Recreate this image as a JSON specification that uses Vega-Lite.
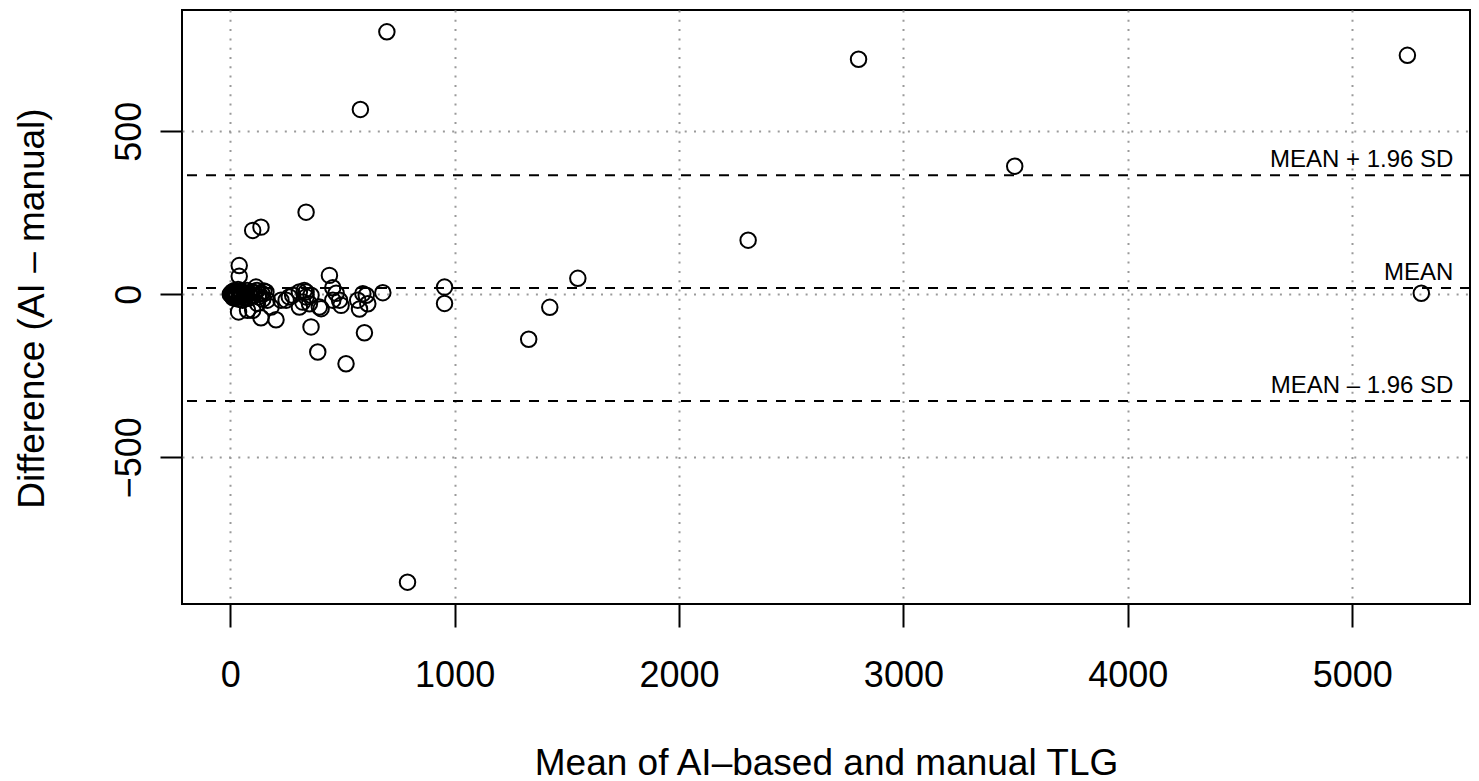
{
  "$schema": "https://vega.github.io/schema/vega-lite/v6.json",
  "width": 1288,
  "height": 594,
  "autosize": {"type": "none"},
  "padding": {"left": 182, "top": 10, "right": 9, "bottom": 177},
  "background": "white",
  "config": {
    "view": {"stroke": "black", "strokeWidth": 2},
    "axis": {
      "domain": false,
      "grid": true,
      "gridColor": "#9a9a9a",
      "gridDash": [2, 7.3],
      "gridWidth": 2,
      "ticks": true,
      "tickColor": "black",
      "tickWidth": 2,
      "labelFont": "Liberation Sans",
      "labelFontSize": 36,
      "labelColor": "black",
      "titleFont": "Liberation Sans",
      "titleFontSize": 37,
      "titleFontWeight": "normal",
      "titleColor": "black"
    }
  },
  "datasets": {
    "points": [
      {"mean": 698, "diff": 805}, {"mean": 580, "diff": 567}, {"mean": 2800, "diff": 721}, {"mean": 5246, "diff": 733},
      {"mean": 3496, "diff": 393}, {"mean": 2308, "diff": 166}, {"mean": 1549, "diff": 49}, {"mean": 1424, "diff": -40},
      {"mean": 1330, "diff": -138}, {"mean": 790, "diff": -883}, {"mean": 5308, "diff": 3}, {"mean": 955, "diff": 22},
      {"mean": 955, "diff": -28}, {"mean": 338, "diff": 252}, {"mean": 100, "diff": 196}, {"mean": 137, "diff": 206},
      {"mean": 40, "diff": 88}, {"mean": 40, "diff": 55},
      {"mean": 442, "diff": 58}, {"mean": 457, "diff": 20}, {"mean": 472, "diff": 3}, {"mean": 338, "diff": 7},
      {"mean": 338, "diff": -8}, {"mean": 323, "diff": -24}, {"mean": 353, "diff": -29}, {"mean": 397, "diff": -39},
      {"mean": 487, "diff": -18}, {"mean": 457, "diff": -18}, {"mean": 568, "diff": -18}, {"mean": 591, "diff": 2},
      {"mean": 613, "diff": -29}, {"mean": 576, "diff": -45}, {"mean": 606, "diff": -3}, {"mean": 680, "diff": 5},
      {"mean": 360, "diff": -100}, {"mean": 390, "diff": -177}, {"mean": 516, "diff": -213}, {"mean": 598, "diff": -118},
      {"mean": 494, "diff": -34}, {"mean": 405, "diff": -44}, {"mean": 308, "diff": -39}, {"mean": 278, "diff": -3},
      {"mean": 249, "diff": -18}, {"mean": 226, "diff": -18}, {"mean": 263, "diff": -8}, {"mean": 308, "diff": 7},
      {"mean": 330, "diff": 12}, {"mean": 360, "diff": -3}, {"mean": 204, "diff": -78}, {"mean": 137, "diff": -72},
      {"mean": 100, "diff": -49}, {"mean": 37, "diff": -54}, {"mean": 182, "diff": -39}, {"mean": 159, "diff": 7},
      {"mean": 115, "diff": 22}, {"mean": 121, "diff": -28}, {"mean": 165, "diff": -18}, {"mean": 77, "diff": -49},
      {"mean": 0, "diff": 0}, {"mean": 5, "diff": 3}, {"mean": 8, "diff": -5}, {"mean": 10, "diff": 8},
      {"mean": 12, "diff": -10}, {"mean": 15, "diff": 2}, {"mean": 18, "diff": -2}, {"mean": 20, "diff": 12},
      {"mean": 22, "diff": -12}, {"mean": 25, "diff": 5}, {"mean": 28, "diff": -8}, {"mean": 30, "diff": 0},
      {"mean": 35, "diff": 15}, {"mean": 38, "diff": -15}, {"mean": 42, "diff": 3}, {"mean": 45, "diff": -5},
      {"mean": 48, "diff": 10}, {"mean": 52, "diff": -3}, {"mean": 55, "diff": -18}, {"mean": 60, "diff": 5},
      {"mean": 65, "diff": -8}, {"mean": 70, "diff": 0}, {"mean": 75, "diff": 12}, {"mean": 80, "diff": -12},
      {"mean": 85, "diff": 3}, {"mean": 90, "diff": -5}, {"mean": 95, "diff": 8}, {"mean": 105, "diff": -3},
      {"mean": 110, "diff": 5}, {"mean": 120, "diff": 12}, {"mean": 125, "diff": -8}, {"mean": 130, "diff": 0},
      {"mean": 140, "diff": 3}, {"mean": 145, "diff": -15}, {"mean": 150, "diff": 10}
    ],
    "lines": [
      {"label": "MEAN + 1.96 SD", "diff": 365},
      {"label": "MEAN", "diff": 19},
      {"label": "MEAN – 1.96 SD", "diff": -327}
    ]
  },
  "layer": [
    {
      "data": {"name": "points"},
      "mark": {"type": "point", "shape": "circle", "filled": false, "stroke": "black", "strokeWidth": 2, "size": 240, "opacity": 1},
      "encoding": {
        "x": {
          "field": "mean", "type": "quantitative",
          "scale": {"domain": [-215, 5525], "nice": false, "zero": false},
          "axis": {
            "values": [0, 1000, 2000, 3000, 4000, 5000],
            "format": "d",
            "tickSize": 23,
            "labelBaseline": "alphabetic",
            "labelPadding": 59,
            "labelAlign": "center",
            "labelFlush": false,
            "labelOverlap": false,
            "title": "Mean of AI–based and manual TLG",
            "titleBaseline": "alphabetic",
            "titleAlign": "center",
            "titleX": 644,
            "titleY": 170
          }
        },
        "y": {
          "field": "diff", "type": "quantitative",
          "scale": {"domain": [-950, 872], "nice": false, "zero": false},
          "axis": {
            "values": [-500, 0, 500],
            "format": "d",
            "tickSize": 22,
            "labelAngle": -90,
            "labelAlign": "center",
            "labelBaseline": "alphabetic",
            "labelPadding": 20,
            "labelFlush": false,
            "labelOverlap": false,
            "title": "Difference (AI – manual)",
            "titleAngle": -90,
            "titleBaseline": "alphabetic",
            "titleAlign": "center",
            "titleX": -139,
            "titleY": 298
          }
        }
      }
    },
    {
      "data": {"name": "lines"},
      "mark": {"type": "rule", "stroke": "black", "strokeWidth": 2, "strokeDash": [10, 9]},
      "encoding": {
        "y": {"field": "diff", "type": "quantitative"}
      }
    },
    {
      "data": {"name": "lines"},
      "mark": {"type": "text", "align": "right", "baseline": "alphabetic", "dy": -8, "font": "Liberation Sans", "fontSize": 24, "color": "black"},
      "encoding": {
        "x": {"datum": 5451, "type": "quantitative"},
        "y": {"field": "diff", "type": "quantitative"},
        "text": {"field": "label"}
      }
    }
  ]
}
